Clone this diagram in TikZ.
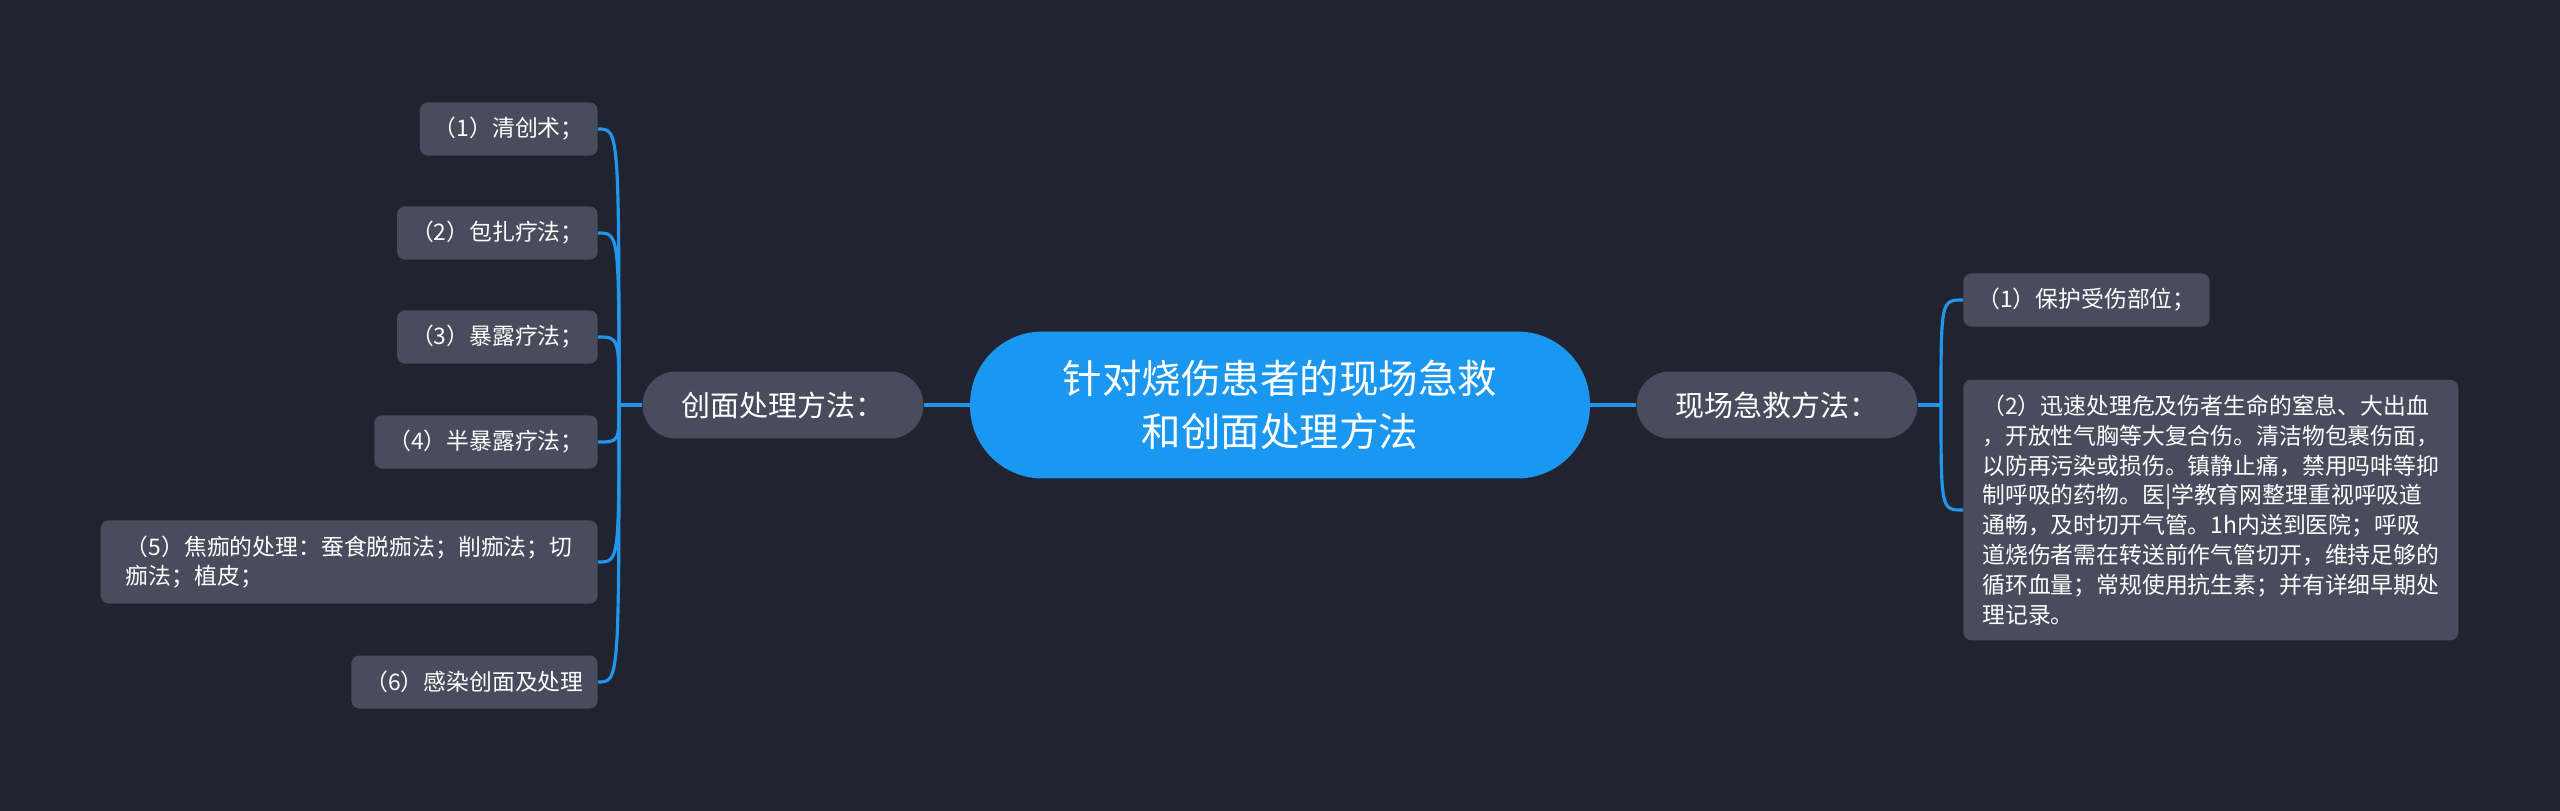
\documentclass[tikz,border=0pt]{standalone}
\usepackage{fontspec}
\setmainfont{Noto Sans CJK SC}
\usetikzlibrary{positioning}
\definecolor{bgdark}{HTML}{21242F}
\definecolor{rootblue}{HTML}{1A97F0}
\definecolor{leafgray}{HTML}{474D5C}
\definecolor{linkblue}{HTML}{2196EE}
\tikzset{x=0.02cm, y=-0.02cm,
root/.style={ % central topic, blue pill
fill=rootblue, text=white,
rounded corners=1.45cm,
minimum width=12.4cm, minimum height=2.94cm,
align=center, font=\fontsize{22.5pt}{30.5pt}\selectfont},
branch/.style={ % the two main branches
fill=leafgray, text=white,
rounded corners=0.67cm,
minimum width=5.62cm, minimum height=1.34cm,
font=\fontsize{16.5pt}{20pt}\selectfont},
leaf/.style={ % grey boxes at the ends
fill=leafgray, text=white,
rounded corners=0.16cm,
minimum height=1.06cm, inner xsep=0.28cm, inner ysep=0.3cm,
align=left, font=\fontsize{13pt}{17pt}\selectfont},
link/.style={ % blue connectors
draw=linkblue, line width=1.8pt}}
\begin{document}
\begin{tikzpicture}
\fill[bgdark] (0,0) rectangle (2560,811);

\node[root] (root) at (1280,405) {针对烧伤患者的现场急救\\和创面处理方法};
\node[branch] (treat) at (783,405) {创面处理方法：};
\node[branch] (aid) at (1777,405) {现场急救方法：};

\node[leaf, anchor=east] (t1) at (598,129) {（1）清创术；};
\node[leaf, anchor=east] (t2) at (598,233) {（2）包扎疗法；};
\node[leaf, anchor=east] (t3) at (598,337) {（3）暴露疗法；};
\node[leaf, anchor=east] (t4) at (598,442) {（4）半暴露疗法；};
\node[leaf, anchor=east, minimum width=9.94cm] (t5) at (598,562) {（5）焦痂的处理：蚕食脱痂法；削痂法；切\\痂法；植皮；};
\node[leaf, anchor=east] (t6) at (598,682) {（6）感染创面及处理};

\node[leaf, anchor=west] (a1) at (1963,300) {（1）保护受伤部位；};
\node[leaf, anchor=west, minimum width=9.9cm] (a2) at (1963,510) {（2）迅速处理危及伤者生命的窒息、大出血\\
，开放性气胸等大复合伤。清洁物包裹伤面，\\
以防再污染或损伤。镇静止痛，禁用吗啡等抑\\
制呼吸的药物。医|学教育网整理重视呼吸道\\
通畅，及时切开气管。1h内送到医院；呼吸\\
道烧伤者需在转送前作气管切开，维持足够的\\
循环血量；常规使用抗生素；并有详细早期处\\
理记录。};

\coordinate (tj) at (619,405);
\coordinate (aj) at (1941,405);

\draw[link] (root) -- (treat);
\draw[link] (root) -- (aid);
\draw[link] (treat) -- (tj);
\draw[link] (aid) -- (aj);
\foreach \n in {t1,t2,t3,t4,t5,t6}
  \draw[link] (tj) .. controls (tj |- \n.east) .. (\n.east);
\foreach \n in {a1,a2}
  \draw[link] (aj) .. controls (aj |- \n.west) .. (\n.west);
\end{tikzpicture}
\end{document}
